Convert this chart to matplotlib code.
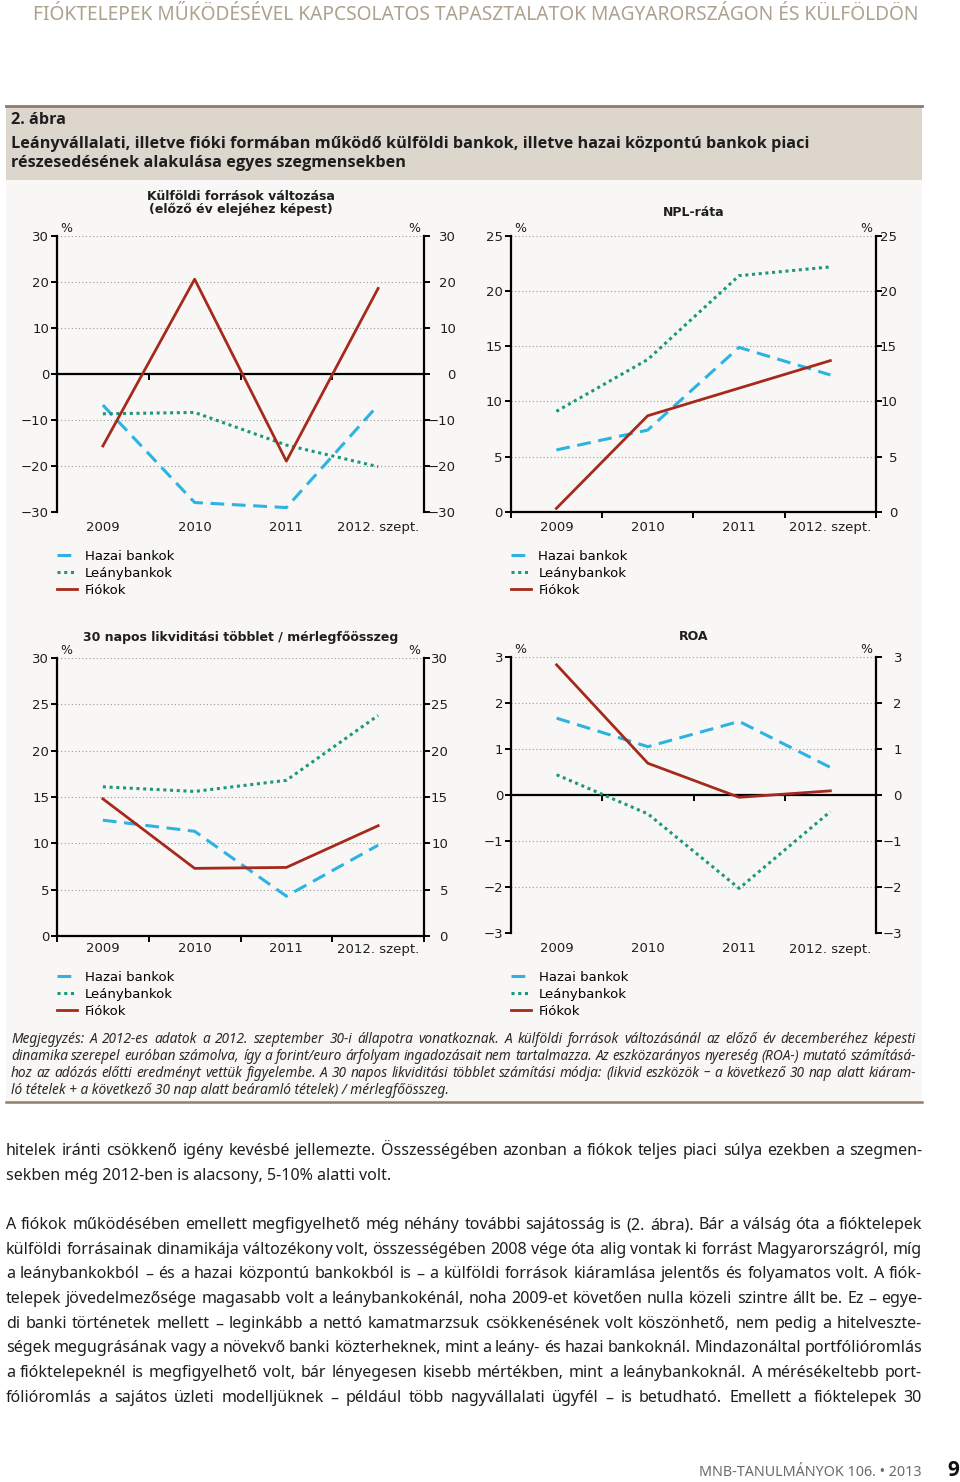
import numpy as np
import matplotlib
matplotlib.use('Agg')
import matplotlib.pyplot as plt
from matplotlib import font_manager
from matplotlib.patches import Rectangle
from matplotlib.lines import Line2D

W, H = 960, 1482

years = ['2009', '2010', '2011', '2012. szept.']
series = ['Hazai bankok', 'Leánybankok', 'Fiókok']

# Külföldi források változása (%)
forras_hazai = [-6.8, -28.0, -29.1, -6.8]
forras_leany = [-8.7, -8.4, -15.5, -20.2]
forras_fiok = [-15.7, 20.6, -19.0, 18.6]

# NPL-ráta (%)
npl_hazai = [5.6, 7.4, 14.9, 12.4]
npl_leany = [9.1, 13.8, 21.4, 22.2]
npl_fiok = [0.3, 8.7, 11.2, 13.7]

# 30 napos likviditási többlet / mérlegfőösszeg (%)
likv_hazai = [12.5, 11.3, 4.3, 9.8]
likv_leany = [16.1, 15.6, 16.8, 23.8]
likv_fiok = [14.8, 7.3, 7.4, 11.9]

# ROA (%)
roa_hazai = [1.67, 1.05, 1.60, 0.60]
roa_leany = [0.44, -0.41, -2.03, -0.36]
roa_fiok = [2.83, 0.69, -0.05, 0.09]

header = 'FIÓKTELEPEK MŰKÖDÉSÉVEL KAPCSOLATOS TAPASZTALATOK MAGYARORSZÁGON ÉS KÜLFÖLDÖN'
caption = ['2. ábra',
           'Leányvállalati, illetve fióki formában működő külföldi bankok, illetve hazai központú bankok piaci',
           'részesedésének alakulása egyes szegmensekben']
note_lines = [
    'Megjegyzés: A 2012-es adatok a 2012. szeptember 30-i állapotra vonatkoznak. A külföldi források változásánál az előző év decemberéhez képesti',
    'dinamika szerepel euróban számolva, így a forint/euro árfolyam ingadozásait nem tartalmazza. Az eszközarányos nyereség (ROA-) mutató számításá-',
    'hoz az adózás előtti eredményt vettük figyelembe. A 30 napos likviditási többlet számítási módja: (likvid eszközök – a következő 30 nap alatt kiáram-',
    'ló tételek + a következő 30 nap alatt beáramló tételek) / mérlegfőösszeg.']
body1 = [
    'hitelek iránti csökkenő igény kevésbé jellemezte. Összességében azonban a fiókok teljes piaci súlya ezekben a szegmen-',
    'sekben még 2012-ben is alacsony, 5-10% alatti volt.']
body2 = [
    'A fiókok működésében emellett megfigyelhető még néhány további sajátosság is (2. ábra). Bár a válság óta a fióktelepek',
    'külföldi forrásainak dinamikája változékony volt, összességében 2008 vége óta alig vontak ki forrást Magyarországról, míg',
    'a leánybankokból – és a hazai központú bankokból is – a külföldi források kiáramlása jelentős és folyamatos volt. A fiók-',
    'telepek jövedelmezősége magasabb volt a leánybankokénál, noha 2009-et követően nulla közeli szintre állt be. Ez – egye-',
    'di banki történetek mellett – leginkább a nettó kamatmarzsuk csökkenésének volt köszönhető, nem pedig a hitelveszte-',
    'ségek megugrásának vagy a növekvő banki közterheknek, mint a leány- és hazai bankoknál. Mindazonáltal portfólióromlás',
    'a fióktelepeknél is megfigyelhető volt, bár lényegesen kisebb mértékben, mint a leánybankoknál. A mérésékeltebb port-',
    'fólióromlás a sajátos üzleti modelljüknek – például több nagyvállalati ügyfél – is betudható. Emellett a fióktelepek 30']
footer = 'MNB-TANULMÁNYOK 106. • 2013'
page_no = '9'

ents = font_manager.fontManager.ttflist


def pick(cands, style='normal', bold=False):
    for c in cands:
        for f in ents:
            if f.name != c or f.style != style:
                continue
            w = f.weight if isinstance(f.weight, int) else (700 if 'bold' in str(f.weight) else 400)
            if (w >= 600) == bold:
                return c
    return 'DejaVu Sans'


TEXT_FONT = pick(['Noto Sans', 'Open Sans'])
NOTE_FONT = pick(['Noto Sans', 'Open Sans'], 'italic')
BOLD_FONT = pick(['Noto Sans', 'Open Sans', 'DejaVu Sans'], bold=True)

C_HAZAI = '#2cb3e2'
C_LEANY = '#1b987c'
C_FIOK = '#a52a1c'
C_TEXT = '#1e1e1e'

fig = plt.figure(figsize=(W / 100, H / 100), dpi=100)
fig.patch.set_facecolor('white')
r = fig.canvas.get_renderer()


def fx(px):
    return px / W


def fy(py):
    return 1 - py / H


def text_width(s, size, **kw):
    t = fig.text(0, 0, s, fontsize=size, **kw)
    w = t.get_window_extent(r).width
    t.remove()
    return w


def put_line(s, x0, x1, y, size, justify=True, **kw):
    # y is the middle of the x-height; words sit on a common baseline
    base = y + 0.27 * size * 100 / 72
    words = s.split(' ')
    if not justify or len(words) == 1:
        fig.text(fx(x0), fy(base), s, fontsize=size, va='baseline', **kw)
        return
    widths = [text_width(w, size, **kw) for w in words]
    gap = max((x1 - x0 - sum(widths)) / (len(words) - 1), 2.5)
    x = x0
    for w, wd in zip(words, widths):
        fig.text(fx(x), fy(base), w, fontsize=size, va='baseline', **kw)
        x += wd + gap


def fill_size(lines, target, **kw):
    # size at which most lines fill the column with ordinary spaces
    ws = [text_width(s, 12, **kw) for s in lines]
    return 12 * target / np.percentile(ws, 85)


#----Page background pieces----
fig.add_artist(Rectangle((fx(6), fy(180)), 916 / W, 74 / H, transform=fig.transFigure,
                         facecolor='#ddd6cc', edgecolor='none', zorder=-5))
fig.add_artist(Rectangle((fx(6), fy(1101)), 916 / W, 921 / H, transform=fig.transFigure,
                         facecolor='#f8f7f5', edgecolor='none', zorder=-5))
fig.add_artist(Line2D([fx(6), fx(922)], [fy(106), fy(106)], color='#8c7b67', lw=2.0, zorder=-4))
fig.add_artist(Line2D([fx(6), fx(922)], [fy(1102), fy(1102)], color='#8f7f6b', lw=1.8, zorder=-4))


def panel(box, title, title_y, hazai, leany, fiok, ylim, step, lab_y, leg_top, rlab_right):
    l, t, rr, b = box
    ax = fig.add_axes([fx(l), fy(b), (rr - l) / W, (b - t) / H])
    ax.set_facecolor('none')
    x = np.arange(len(years))
    h1, = ax.plot(x, hazai, color=C_HAZAI, lw=2.2, dashes=(4.5, 2.5), label=series[0], zorder=3)
    h2, = ax.plot(x, leany, color=C_LEANY, lw=2.2, dashes=(1.0, 1.2), label=series[1], zorder=3)
    h3, = ax.plot(x, fiok, color=C_FIOK, lw=2.0, label=series[2], zorder=4)
    ax.set_xlim(-0.5, len(years) - 0.5)
    ax.set_ylim(*ylim)
    yt = np.arange(ylim[0], ylim[1] + step / 2, step)
    ax.set_yticks(yt)
    ax.grid(axis='y', linestyle=(0, (1, 2.2)), color='#9a9a9a', lw=0.8)
    ax.set_axisbelow(True)
    ax.spines['top'].set_visible(False)
    ax.spines['right'].set_visible(False)
    ax.spines['left'].set_linewidth(1.6)
    ax.spines['bottom'].set_linewidth(1.6)
    ax.spines['bottom'].set_position(('data', 0))
    ax.set_xticks(np.arange(-0.5, len(years), 1.0))
    ax.set_xticklabels([])
    ax.tick_params(axis='x', direction='out', length=4, width=1.4)
    ax.tick_params(axis='y', direction='out', length=4.5, width=1.4, labelsize=9.5,
                   pad=1.2, labelcolor=C_TEXT)

    # right hand axis with the same scale
    ax2 = ax.twinx()
    ax2.set_ylim(*ylim)
    ax2.set_yticks(yt)
    for s in ['top', 'bottom', 'left']:
        ax2.spines[s].set_visible(False)
    ax2.spines['right'].set_linewidth(1.6)
    pad = (rlab_right - rr) * 0.72 - 4.5
    ax2.tick_params(axis='y', direction='out', length=4.5, width=1.4, labelsize=9.5,
                    pad=pad, labelcolor=C_TEXT)
    for lab in ax2.get_yticklabels():
        lab.set_horizontalalignment('right')

    ax.text(0.01, 1.005, '%', transform=ax.transAxes, ha='left', va='bottom', fontsize=9, color=C_TEXT)
    ax.text(0.99, 1.005, '%', transform=ax.transAxes, ha='right', va='bottom', fontsize=9, color=C_TEXT)

    fig.text(fx((l + rr) / 2), fy(title_y), title, ha='center', va='center', fontsize=9,
             fontweight='bold', color=C_TEXT, linespacing=1.05)

    yfrac = (b - lab_y) / (b - t)
    for i, yr in enumerate(years):
        ax.text(i, yfrac, yr, transform=ax.get_xaxis_transform(), ha='center', va='center',
                fontsize=9.5, color=C_TEXT)

    ax.legend(handles=[h1, h2, h3], loc='upper left', bbox_to_anchor=(fx(l), fy(leg_top)),
              bbox_transform=fig.transFigure, frameon=False, borderpad=0, borderaxespad=0,
              handlelength=1.55, handletextpad=0.55, labelspacing=0.3, fontsize=9.5)
    return ax


panel((57, 236, 424, 511.7), 'Külföldi források változása\n(előző év elejéhez képest)', 203,
      forras_hazai, forras_leany, forras_fiok, (-30, 30), 10, 528, 550, 456)
panel((510.7, 236, 876, 511.7), 'NPL-ráta', 212,
      npl_hazai, npl_leany, npl_fiok, (0, 25), 5, 528, 550, 897)
panel((57, 658, 424, 936), '30 napos likviditási többlet / mérlegfőösszeg', 637,
      likv_hazai, likv_leany, likv_fiok, (0, 30), 5, 949, 971, 448)
panel((511, 657, 876, 933), 'ROA', 636,
      roa_hazai, roa_leany, roa_fiok, (-3, 3), 1, 949, 971, 902)

#----Texts on the page----
head_kw = dict(family=TEXT_FONT, color='#ada18f')
hs = 12 * 886 / text_width(header, 12, **head_kw)
fig.text(fx(33), fy(15), header, fontsize=hs, va='center', **head_kw)

cap_kw = dict(family=BOLD_FONT, fontweight='bold', color=C_TEXT)
cs = 12 * 793 / text_width(caption[1], 12, **cap_kw)
for txt, yy in zip(caption, [120, 144, 163]):
    fig.text(fx(11), fy(yy), txt, fontsize=cs, va='center', **cap_kw)

note_kw = dict(family=NOTE_FONT, style='italic', color='#2a2a2a')
ns = fill_size(note_lines[:3], 905, **note_kw)
for i, (s, yy) in enumerate(zip(note_lines, [1039, 1056, 1073, 1090])):
    put_line(s, 11, 916, yy, ns, justify=(i < 3), **note_kw)

body_kw = dict(family=TEXT_FONT, color=C_TEXT)
bs = fill_size(body1[:1] + body2, 916, **body_kw)
put_line(body1[0], 6, 922, 1151, bs, **body_kw)
put_line(body1[1], 6, 922, 1176, bs, justify=False, **body_kw)
for s, yy in zip(body2, [1225, 1250, 1274, 1299, 1324, 1348, 1373, 1398]):
    put_line(s, 6, 922, yy, bs, **body_kw)

fs = 10 * 222 / text_width(footer, 10, family=TEXT_FONT)
fig.text(fx(922), fy(1472), footer, fontsize=fs, ha='right', va='center', color='#6a6a6a',
         family=TEXT_FONT)
fig.text(fx(959), fy(1470), page_no, fontsize=15, ha='right', va='center', fontweight='bold',
         color='#111111', family=BOLD_FONT)

fig.savefig('out.png', dpi=100)
